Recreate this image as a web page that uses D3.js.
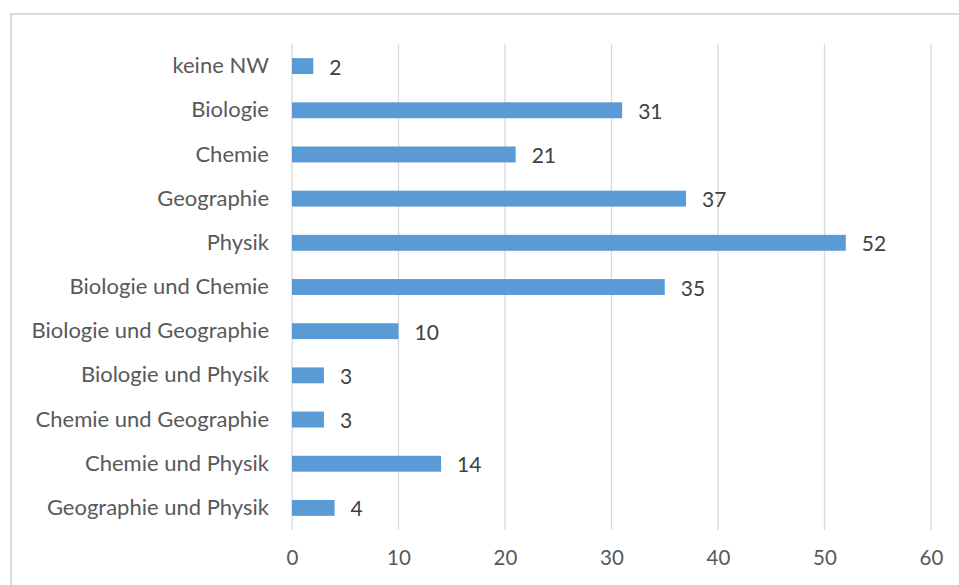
<!DOCTYPE html>
<html><head><meta charset="utf-8">
<script src="https://cdn.jsdelivr.net/npm/d3@7"></script>
<style>html,body{margin:0;padding:0;background:#fff;}svg{display:block;}</style>
</head><body>
<script>
const categories = ["keine NW","Biologie","Chemie","Geographie","Physik","Biologie und Chemie","Biologie und Geographie","Biologie und Physik","Chemie und Geographie","Chemie und Physik","Geographie und Physik"];
const values = [2,31,21,37,52,35,10,3,3,14,4];
const xTicks = [0,10,20,30,40,50,60];

const W = 959, H = 585;
const svg = d3.select("body").append("svg").attr("width", W).attr("height", H);
const font = "Lato, 'Open Sans', sans-serif";

svg.append("rect").attr("x", 11).attr("y", 14).attr("width", 960).attr("height", 600)
  .attr("fill", "#fff").attr("stroke", "#d9d9d9").attr("stroke-width", 2);

const x = d3.scaleLinear().domain([0,60]).range([292, 931]);
const y = d3.scaleBand().domain(categories).range([44, 530]).paddingInner(0.64).paddingOuter(0.32);

// gridlines
svg.append("g").selectAll("line").data(xTicks).join("line")
  .attr("x1", d => x(d)).attr("x2", d => x(d)).attr("y1", 44).attr("y2", 530)
  .attr("stroke", "#d9d9d9").attr("stroke-width", 1.3);

// bars
svg.append("g").selectAll("rect").data(values).join("rect")
  .attr("x", x(0)).attr("y", (d,i) => y(categories[i]))
  .attr("width", d => x(d) - x(0)).attr("height", y.bandwidth())
  .attr("fill", "#5B9BD5");

// data labels
svg.append("g").selectAll("text").data(values).join("text")
  .attr("x", d => x(d) + 16).attr("y", (d,i) => y(categories[i]) + y.bandwidth()/2 + 1)
  .attr("dy", "0.36em").attr("font-family", font).attr("font-size", 21)
  .attr("fill", "#404040").text(d => d);

// y axis
const yAxis = svg.append("g").attr("transform", `translate(${x(0)},0)`)
  .call(d3.axisLeft(y).tickSize(0).tickPadding(23));
yAxis.select(".domain").remove();
yAxis.selectAll("text").attr("font-family", font).attr("font-size", 22).attr("fill", "#595959");

// x axis
const xAxis = svg.append("g").attr("transform", `translate(0,530)`)
  .call(d3.axisBottom(x).tickValues(xTicks).tickSize(0).tickPadding(20));
xAxis.select(".domain").remove();
xAxis.selectAll("text").attr("font-family", font).attr("font-size", 20.5).attr("fill", "#595959");
</script>
</body></html>
